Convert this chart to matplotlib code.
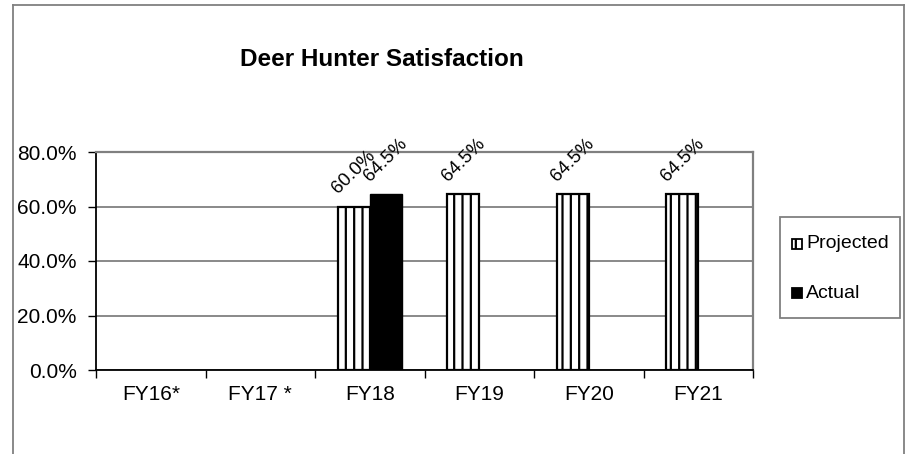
import matplotlib
matplotlib.use("Agg")
import matplotlib.pyplot as plt
from matplotlib.lines import Line2D
from matplotlib.patches import Rectangle
from matplotlib.ticker import FixedLocator, PercentFormatter
import numpy as np

categories = ["FY16*", "FY17 *", "FY18", "FY19", "FY20", "FY21"]
projected = [None, None, 0.600, 0.645, 0.645, 0.645]
actual = [None, None, 0.645, None, None, None]
y_ticks = [0.0, 0.2, 0.4, 0.6, 0.8]
series_names = ["Projected", "Actual"]

plt.rcParams["font.family"] = ["Liberation Sans", "DejaVu Sans"]
plt.rcParams["hatch.linewidth"] = 1.6

W, H = 906, 454
fig = plt.figure(figsize=(W / 100, H / 100), dpi=100)

def fx(px):
    return px / W

def fy(py):
    return 1 - py / H

# outer chart border (open at the bottom)
grey = "#808080"
for xs, ys in [((13, 13), (5, 454)), ((13, 904), (5, 5)), ((904, 904), (5, 454))]:
    fig.add_artist(Line2D([fx(x) for x in xs], [fy(y) for y in ys],
                          color=grey, lw=1.3, transform=fig.transFigure))

ax = fig.add_axes([fx(96), fy(370), fx(753) - fx(96), fy(152) - fy(370)])

x = np.arange(len(categories))
bw = 0.29

def vals(seq):
    return np.array([np.nan if v is None else v for v in seq], dtype=float)

p = vals(projected)
a = vals(actual)

proj_style = dict(facecolor="white", edgecolor="black", hatch="||", linewidth=1.6)
act_style = dict(facecolor="black", edgecolor="black", linewidth=1.0)

bars_p = ax.bar(x - bw / 2, p, bw, label=series_names[0], **proj_style)
bars_a = ax.bar(x + bw / 2, a, bw, label=series_names[1], **act_style)

for bars, v in [(bars_p, p), (bars_a, a)]:
    for b, val in zip(bars, v):
        if np.isnan(val):
            continue
        ax.annotate(f"{val * 100:.1f}%", (b.get_x() + b.get_width() / 2, val),
                    xytext=(0, 7), textcoords="offset points",
                    ha="center", va="bottom", rotation=45, fontsize=13.5)

ax.set_xlim(-0.5, len(categories) - 0.5)
ax.set_ylim(0, 0.8)
ax.yaxis.set_major_locator(FixedLocator(y_ticks))
ax.yaxis.set_major_formatter(PercentFormatter(1.0, decimals=1))
ax.grid(axis="y", color=grey, lw=1.3)
ax.set_axisbelow(True)

ax.set_xticks(x)
ax.set_xticklabels(categories)
ax.set_xticks(np.arange(len(categories) + 1) - 0.5, minor=True)
ax.tick_params(axis="x", which="major", length=0, pad=11, labelsize=15)
ax.tick_params(axis="x", which="minor", length=6, width=1.0, direction="out")
ax.tick_params(axis="y", length=6, width=1.0, direction="out", pad=8, labelsize=15)

for s in ["left", "bottom"]:
    ax.spines[s].set_color("black")
    ax.spines[s].set_linewidth(1.3)
for s in ["top", "right"]:
    ax.spines[s].set_color(grey)
    ax.spines[s].set_linewidth(1.6)

fig.text(fx(382), fy(60), "Deer Hunter Satisfaction", ha="center", va="center",
         fontsize=17.5, fontweight="bold")

# legend box drawn as plain figure artists
def fig_rect(x0, y0, x1, y1, **kw):
    r = Rectangle((fx(x0), fy(y1)), fx(x1) - fx(x0), fy(y0) - fy(y1),
                  transform=fig.transFigure, **kw)
    fig.add_artist(r)
    return r

fig_rect(780, 217, 900, 318, facecolor="white", edgecolor=grey, linewidth=1.3)
for name, style, yc in [(series_names[0], proj_style, 244), (series_names[1], act_style, 293)]:
    st = dict(style)
    st["linewidth"] = 1.3
    fig_rect(792, yc - 5, 802, yc + 5, **st)
    fig.text(fx(806), fy(yc), name, ha="left", va="center", fontsize=14)

fig.savefig("out.png", dpi=100)
